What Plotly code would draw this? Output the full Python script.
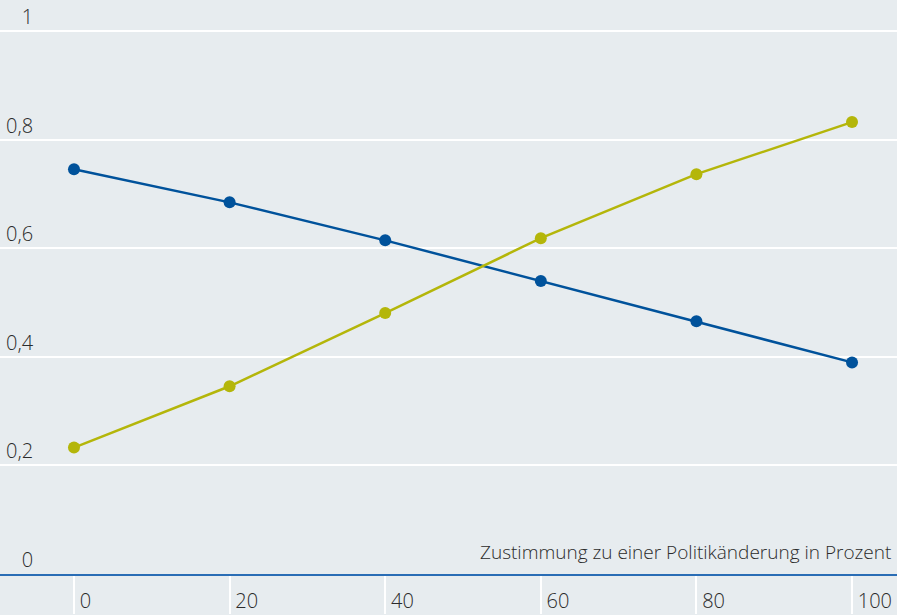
import plotly.graph_objects as go

x_vals = [0, 20, 40, 60, 80, 100]
blue_vals = [0.746, 0.685, 0.615, 0.540, 0.466, 0.390]
yellow_vals = [0.233, 0.346, 0.481, 0.619, 0.737, 0.833]
y_ticks = [0, 0.2, 0.4, 0.6, 0.8, 1]
x_ticks = [0, 20, 40, 60, 80, 100]
x_title = "Zustimmung zu einer Politikänderung in Prozent"

BG = "#e7ecef"
BLUE = "#00529b"
YELLOW = "#b4b60a"
TXT = "#2b2b2b"
FONT = "Open Sans"

fig = go.Figure()
fig.add_trace(go.Scatter(x=x_vals, y=blue_vals, mode="lines+markers",
                         line=dict(color=BLUE, width=2.5),
                         marker=dict(color=BLUE, size=12), showlegend=False))
fig.add_trace(go.Scatter(x=x_vals, y=yellow_vals, mode="lines+markers",
                         line=dict(color=YELLOW, width=2.5),
                         marker=dict(color=YELLOW, size=12), showlegend=False))

fig.update_layout(
    width=897, height=615,
    margin=dict(l=0, r=0, t=0, b=41, autoexpand=False),
    paper_bgcolor=BG, plot_bgcolor=BG,
    separators=", ",
    font=dict(family=FONT, color=TXT, size=18, weight=300),
    xaxis=dict(range=[-9.51, 105.78], tickvals=x_ticks, showgrid=False,
               zeroline=False, showline=True, linecolor="#2a6db5", linewidth=2,
               ticks="outside", ticklen=38, tickcolor="#ffffff", tickwidth=1.5,
               ticklabelposition="outside right", automargin=False,
               ticklabelshift=4, ticklabelstandoff=8,
               tickfont=dict(size=20, color=TXT, weight=300)),
    yaxis=dict(range=[0, 1.058], tickvals=y_ticks, showgrid=True,
               gridcolor="#ffffff", gridwidth=1.5, zeroline=False,
               showline=False, anchor="free", position=0.037,
               ticks="", ticklabelposition="outside top", automargin=False,
               tickfont=dict(size=20, color=TXT, weight=300)),
    annotations=[dict(text=x_title, xref="paper", x=0.996, xanchor="right",
                      yref="y", y=0, yanchor="bottom", yshift=7,
                      showarrow=False, font=dict(size=19, color=TXT, weight=300))],
)

fig.write_html("out.html", config={"displayModeBar": False},
               post_script="document.body.style.margin='0';document.body.style.overflow='hidden';")
